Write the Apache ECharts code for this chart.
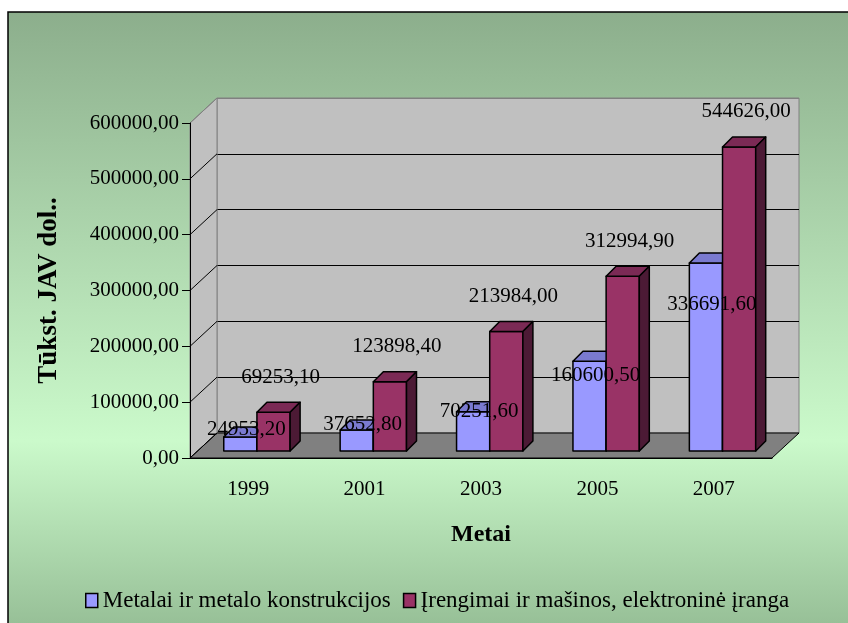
<!DOCTYPE html>
<html>
<head>
<meta charset="utf-8">
<script src="https://cdn.jsdelivr.net/npm/echarts@6/dist/echarts.min.js"></script>
<style>
  html, body { margin: 0; padding: 0; background: #fff; }
  #chart { width: 848px; height: 623px; }
</style>
</head>
<body>
<div id="chart"></div>
<script>
const years = ['1999', '2001', '2003', '2005', '2007']
const metalai = [24953.2, 37652.8, 70251.6, 160600.5, 336691.6]
const irengimai = [69253.1, 123898.4, 213984.0, 312994.9, 544626.0]
const yTicks = [0, 100000, 200000, 300000, 400000, 500000, 600000]
const seriesNames = ['Metalai ir metalo konstrukcijos', 'Įrengimai ir mašinos, elektroninė įranga']

const FONT = 'Liberation Serif'
// 3d depth of the walls and of the bars
const DX = 27
const DY = -25
const BAR_D = 10
const SHIFT_Y = -7

const fmt = v => v.toFixed(2).replace('.', ',')

function wallsItem(params) {
  const cs = params.coordSys
  const x0 = cs.x, y0 = cs.y, w = cs.width, h = cs.height
  return {
    type: 'group',
    children: [{
      type: 'polygon',
      shape: { points: [[x0, y0], [x0 + DX, y0 + DY], [x0 + DX, y0 + h + DY], [x0, y0 + h]] },
      style: { fill: '#c0c0c0', stroke: '#808080', lineWidth: 1 }
    }, {
      type: 'polygon',
      shape: { points: [[x0, y0 + h], [x0 + w, y0 + h], [x0 + w + DX, y0 + h + DY], [x0 + DX, y0 + h + DY]] },
      style: { fill: '#808080', stroke: '#000', lineWidth: 1 }
    }]
  }
}

function sideLineItem(params, api) {
  const cs = params.coordSys
  const p = api.coord([0, api.value(1)])
  const last = api.value(1) >= yTicks[yTicks.length - 1]
  return {
    type: 'line',
    shape: { x1: cs.x, y1: p[1], x2: cs.x + DX, y2: p[1] + DY },
    style: { stroke: last ? '#808080' : '#000', lineWidth: 1 }
  }
}

function barRenderer(slot, front, top, side, labelFn) {
  return function (params, api) {
    const i = api.value(0)
    const v = api.value(1)
    const c0 = api.coord([i, 0])
    const c1 = api.coord([i, v])
    const band = api.size([1, 0])[0]
    const bw = band * 0.285
    const left = c0[0] - band * 0.21 + slot * bw
    const by = c0[1] + SHIFT_Y
    const ty = c1[1] + SHIFT_Y
    const stroke = { stroke: '#000', lineWidth: 1.5, lineJoin: 'round' }
    const lp = labelFn(left + bw / 2, by, ty)
    return {
      type: 'group',
      children: [{
        type: 'rect',
        shape: { x: left, y: ty, width: bw, height: by - ty },
        style: Object.assign({ fill: front }, stroke)
      }, {
        type: 'polygon',
        shape: { points: [[left, ty], [left + bw, ty], [left + bw + BAR_D, ty - BAR_D], [left + BAR_D, ty - BAR_D]] },
        style: Object.assign({ fill: top }, stroke)
      }, {
        type: 'polygon',
        shape: { points: [[left + bw, ty], [left + bw + BAR_D, ty - BAR_D], [left + bw + BAR_D, by - BAR_D], [left + bw, by]] },
        style: Object.assign({ fill: side }, stroke)
      }, {
        type: 'text',
        z2: 100,
        style: {
          x: lp[0], y: lp[1], text: fmt(v), fill: '#000',
          font: '21px "' + FONT + '"', align: 'center', verticalAlign: 'middle'
        }
      }]
    }
  }
}

const chart = echarts.init(document.getElementById('chart'))

chart.setOption({
  backgroundColor: '#fff',
  animation: false,
  graphic: [{
    type: 'rect',
    z: -10,
    silent: true,
    shape: { x: 8, y: 12, width: 860, height: 630 },
    style: {
      stroke: '#000',
      lineWidth: 1.5,
      fill: new echarts.graphic.LinearGradient(0, 0, 0, 1, [
        { offset: 0, color: '#8cae8c' },
        { offset: 0.68, color: '#cbfacb' },
        { offset: 1, color: '#92ba92' }
      ])
    }
  }],
  legend: {
    left: 80,
    top: 584,
    icon: 'rect',
    itemWidth: 12,
    itemHeight: 14,
    itemGap: 12,
    itemStyle: { borderColor: '#000', borderWidth: 1.5 },
    textStyle: { fontFamily: FONT, fontSize: 23, color: '#000' },
    data: seriesNames
  },
  grid: [
    { left: 190, top: 123, width: 582, height: 335 },
    {
      left: 190 + DX, top: 123 + DY, width: 582, height: 335,
      show: true, backgroundColor: '#c0c0c0', borderColor: '#808080', borderWidth: 1
    }
  ],
  xAxis: [{
    type: 'category',
    gridIndex: 0,
    data: years,
    z: 5,
    axisLine: { lineStyle: { color: '#000', width: 1 } },
    axisTick: { length: 6, interval: 0, lineStyle: { color: '#000' } },
    axisLabel: { margin: 21, color: '#000', fontFamily: FONT, fontSize: 21 },
    name: 'Metai',
    nameLocation: 'middle',
    nameGap: 65,
    nameTextStyle: { fontFamily: FONT, fontSize: 24, fontWeight: 'bold', color: '#000' }
  }, {
    type: 'category',
    gridIndex: 1,
    data: years,
    show: false
  }],
  yAxis: [{
    type: 'value',
    gridIndex: 0,
    min: yTicks[0],
    max: yTicks[yTicks.length - 1],
    interval: yTicks[1] - yTicks[0],
    z: 5,
    axisLine: { show: true, lineStyle: { color: '#000', width: 1 } },
    axisTick: { show: true, length: 8, lineStyle: { color: '#000' } },
    splitLine: { show: false },
    axisLabel: { margin: 11, color: '#000', fontFamily: FONT, fontSize: 21, formatter: v => fmt(v) },
    name: 'Tūkst. JAV dol..',
    nameLocation: 'middle',
    nameGap: 127,
    nameTextStyle: { fontFamily: FONT, fontSize: 27, fontWeight: 'bold', color: '#000' }
  }, {
    type: 'value',
    gridIndex: 1,
    min: yTicks[0],
    max: yTicks[yTicks.length - 1],
    interval: yTicks[1] - yTicks[0],
    axisLine: { show: false },
    axisTick: { show: false },
    axisLabel: { show: false },
    splitLine: {
      show: true,
      lineStyle: { color: ['#808080', '#000', '#000', '#000', '#000', '#000', '#808080'], width: 1 }
    }
  }],
  series: [{
    type: 'custom',
    name: 'walls',
    silent: true,
    z: 1,
    xAxisIndex: 0,
    yAxisIndex: 0,
    renderItem: wallsItem,
    data: [[0, 0]]
  }, {
    type: 'custom',
    name: 'sidelines',
    silent: true,
    z: 1,
    xAxisIndex: 0,
    yAxisIndex: 0,
    renderItem: sideLineItem,
    data: yTicks.map(v => [0, v])
  }, {
    type: 'custom',
    name: seriesNames[0],
    z: 3,
    xAxisIndex: 0,
    yAxisIndex: 0,
    itemStyle: { color: '#9999ff' },
    renderItem: barRenderer(0, '#9999ff', '#7a7ad0', '#5c5c99',
      (cx, by, ty) => [cx + 6, by - (0.72 * (by - ty) + 11)]),
    data: metalai.map((v, i) => [i, v])
  }, {
    type: 'custom',
    name: seriesNames[1],
    z: 3,
    xAxisIndex: 0,
    yAxisIndex: 0,
    itemStyle: { color: '#993366' },
    renderItem: barRenderer(1, '#993366', '#7b2a55', '#4c1a35',
      (cx, by, ty) => [cx + 7, ty - 35]),
    data: irengimai.map((v, i) => [i, v])
  }]
})
</script>
</body>
</html>
